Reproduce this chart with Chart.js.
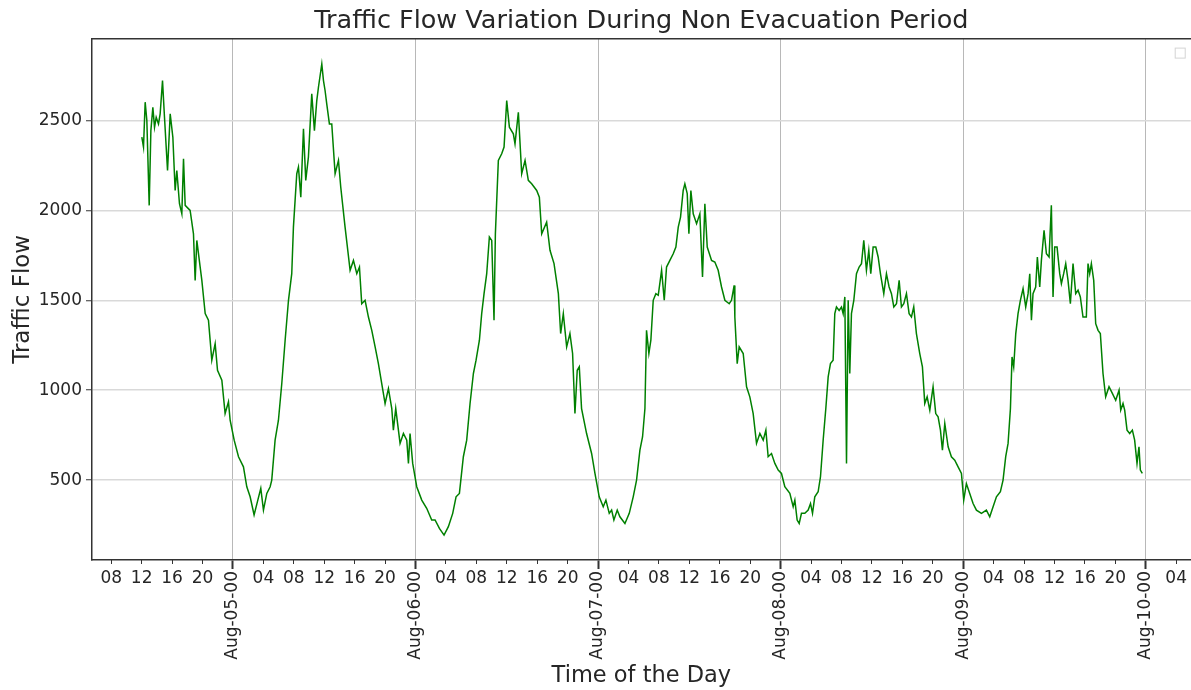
<!DOCTYPE html>
<html>
<head>
<meta charset="utf-8">
<script src="https://cdn.jsdelivr.net/npm/chart.js@4.4.1/dist/chart.umd.min.js"></script>
<style>
  html, body { margin: 0; padding: 0; background: #ffffff; }
  #wrap { width: 1191px; height: 690px; position: relative; }
</style>
</head>
<body>
<div id="wrap"><canvas id="c"></canvas></div>
<script>
// ---- data (hours since Aug-04 00:00, traffic flow) ----
const hours = [
  12.02,12.24,12.46,12.68,12.99,13.21,13.47,13.69,13.91,14.21,14.43,14.74,15.0,15.4,15.75,16.1,16.4,16.62,16.97,17.28,
  17.5,17.72,18.37,18.81,19.03,19.25,19.69,19.91,20.35,20.78,21.22,21.66,21.97,22.54,22.97,23.41,23.63,24.16,24.73,25.38,
  25.82,26.26,26.78,27.22,27.66,28.01,28.45,28.89,29.1,29.54,29.98,30.42,30.86,31.3,31.73,31.95,32.17,32.39,32.61,32.92,
  33.27,33.57,33.92,34.36,34.71,35.02,35.24,35.68,35.9,36.11,36.33,36.68,36.99,37.43,37.87,38.17,38.74,
  39.4,39.84,40.28,40.63,40.93,41.37,41.81,42.25,42.69,43.12,43.56,44.0,44.44,44.88,45.09,45.4,45.97,46.41,46.85,47.07,
  47.28,47.63,48.16,48.82,49.47,50.13,50.57,51.14,51.75,52.32,52.89,53.33,53.77,54.29,54.73,55.17,55.61,55.96,56.4,56.7,
  57.01,57.36,57.71,58.02,58.32,58.5,58.89,59.33,59.64,59.99,60.34,60.86,61.08,61.52,61.96,62.4,62.83,63.27,63.93,64.28,
  64.59,65.24,65.68,66.21,66.78,67.08,67.43,67.87,
  68.3,68.65,68.96,69.26,69.53,69.83,70.49,71.15,71.59,72.15,72.68,73.03,73.47,73.78,74.08,74.52,74.87,75.53,76.1,76.62,
  77.06,77.5,77.85,78.16,78.37,78.68,78.94,79.25,79.6,79.91,80.35,80.7,81.0,81.44,81.88,82.23,82.54,82.84,83.19,83.41,
  83.72,83.94,84.2,84.51,84.95,85.38,85.73,86.04,86.35,86.92,87.35,87.79,88.23,88.67,89.24,89.54,89.89,89.98,90.29,90.55,
  91.08,91.52,91.95,92.39,92.83,93.27,93.71,94.06,94.36,94.8,95.24,95.68,96.11,96.55,
  97.21,97.65,97.87,98.17,98.44,98.74,99.18,99.62,99.93,100.19,100.49,100.93,101.24,101.59,101.94,102.25,102.55,102.9,103.12,103.34,
  103.69,104.0,104.22,104.44,104.66,104.88,105.09,105.31,105.62,105.97,106.32,106.63,106.93,107.28,107.59,107.85,108.16,108.51,108.82,109.12,
  109.56,109.91,110.26,110.57,110.88,111.23,111.58,111.88,112.19,112.54,112.89,113.2,113.5,113.85,114.29,114.64,114.95,115.26,115.61,116.04,
  116.39,116.7,117.01,117.27,117.58,118.02,118.45,118.89,119.33,119.77,120.07,120.42,120.86,121.3,121.74,122.4,123.05,
  123.49,123.93,124.37,124.89,125.24,125.59,125.9,126.21,126.42,126.64,126.91,127.21,127.52,127.87,128.22,128.53,128.75,128.97,129.18,129.53,
  129.75,130.06,130.28,130.63,130.94,131.29,131.59,131.81,132.03,132.34,132.69,132.91,133.21,133.48,133.78,134.09,134.44,134.79,135.1,135.4,
  135.75,136.19,136.41,136.63,136.85,137.16,137.42,137.73,138.03,138.38,138.73,139.17,139.61,140.05,140.49,140.71,141.01,141.23,141.54,141.89,
  142.24,142.54,142.85,143.11,143.29,143.55
];
const flow = [
  2407,2352,2602,2500,2028,2444,2574,2463,2518,2481,2537,2722,2518,2222,2537,2407,2111,2222,2037,1981,
  2287,2028,2000,1870,1611,1833,1685,1611,1426,1389,1167,1259,1111,1056,870,935,833,722,630,574,
  463,407,306,380,454,333,426,463,500,722,833,1037,1278,1500,1648,1907,2056,2204,2241,2074,
  2454,2167,2296,2648,2444,2611,2685,2815,2722,2667,2593,2481,2481,2204,2278,2130,1907,
  1667,1722,1648,1685,1481,1500,1407,1333,1241,1148,1037,926,1009,898,778,898,704,759,722,593,
  759,593,463,389,343,278,278,231,194,241,315,407,426,630,722,926,1093,1167,1278,1426,
  1537,1648,1852,1833,1389,1870,2278,2315,2352,2611,2463,2426,2370,2546,2204,2278,2167,2148,2111,2074,
  1870,1935,1778,1704,1537,1315,1426,1241,
  1315,1204,870,1111,1130,898,759,648,537,407,352,389,315,333,278,333,296,259,315,407,
  500,667,741,898,1333,1204,1278,1500,1537,1528,1667,1500,1685,1722,1759,1796,1907,1963,2111,2148,
  2093,1870,2111,1981,1926,1981,1630,2037,1796,1722,1713,1667,1574,1500,1481,1500,1583,1407,1148,1241,
  1204,1019,963,870,704,759,722,778,630,648,593,556,537,463,
  426,352,389,278,259,315,315,333,370,315,407,435,519,722,898,1074,1148,1167,1426,1463,
  1444,1463,1426,1519,593,1500,1093,1426,1500,1648,1685,1704,1833,1667,1778,1648,1796,1796,1741,1648,
  1537,1648,1574,1537,1463,1481,1611,1463,1481,1537,1426,1407,1463,1315,1204,1130,926,963,889,1019,
  870,852,778,667,815,685,630,611,574,537,389,481,426,370,333,315,333,
  296,352,407,435,500,630,704,898,1185,1130,1315,1426,1500,1565,1463,1537,1648,1389,1537,1574,
  1741,1574,1722,1889,1759,1741,2028,1519,1796,1796,1648,1593,1648,1704,1611,1481,1704,1537,1556,1519,
  1407,1407,1704,1648,1704,1611,1370,1333,1315,1093,963,1019,982,944,1000,889,926,889,778,759,
  778,722,593,685,556,537
];

// ---- tick positions / labels ----
const hourTicks = [8,12,16,20, 28,32,36,40,44, 52,56,60,64,68, 76,80,84,88,92, 100,104,108,112,116, 124,128,132,136,140, 148];
const hourLabels = ['08','12','16','20', '04','08','12','16','20', '04','08','12','16','20', '04','08','12','16','20', '04','08','12','16','20', '04','08','12','16','20', '04'];
const dayTicks = [24,48,72,96,120,144];
const dayLabels = ['Aug-05-00','Aug-06-00','Aug-07-00','Aug-08-00','Aug-09-00','Aug-10-00'];
const yTicks = [500,1000,1500,2000,2500];

const X_MIN = 5.47, X_MAX = 149.91;
const Y_MIN = 55.6, Y_MAX = 2955.6;

const points = hours.map((h, i) => ({ x: h, y: flow[i] }));

Chart.defaults.font.family = "'DejaVu Sans', sans-serif";
Chart.defaults.color = '#262626';

const legendBox = {
  id: 'legendBox',
  afterDraw(chart) {
    const { ctx, chartArea } = chart;
    ctx.save();
    ctx.strokeStyle = '#d4d4d4';
    ctx.lineWidth = 1;
    ctx.strokeRect(chartArea.right - 15.5, chartArea.top + 9.5, 10, 10);
    ctx.restore();
  }
};

new Chart(document.getElementById('c'), {
  type: 'line',
  data: {
    datasets: [{
      data: points,
      borderColor: '#008000',
      borderWidth: 1.5,
      pointRadius: 0,
      tension: 0,
      fill: false,
      xAxisID: 'x',
      yAxisID: 'y'
    }]
  },
  options: {
    responsive: true,
    maintainAspectRatio: false,
    animation: false,
    layout: { padding: 0 },
    plugins: {
      legend: { display: false },
      tooltip: { enabled: false },
      title: {
        display: true,
        fullSize: false,
        text: 'Traffic Flow Variation During Non Evacuation Period',
        font: { size: 25.5, weight: 'normal' },
        color: '#262626',
        padding: { top: 6, bottom: 2 }
      }
    },
    scales: {
      x: {
        type: 'linear', axis: 'x', position: 'bottom',
        min: X_MIN, max: X_MAX,
        afterBuildTicks: s => { s.ticks = hourTicks.map(v => ({ value: v })); },
        afterFit: s => { s.height = 0; s._computeLabelArea = () => null; },
        ticks: {
          autoSkip: false, maxRotation: 0, minRotation: 0, padding: 4,
          font: { size: 17 }, color: '#262626',
          callback: (v, i) => hourLabels[i]
        },
        grid: { drawOnChartArea: false, tickLength: 4, tickColor: '#333', tickWidth: 1 },
        border: { display: false }
      },
      xDay: {
        type: 'linear', axis: 'x', position: 'bottom',
        min: X_MIN, max: X_MAX,
        afterBuildTicks: s => { s.ticks = dayTicks.map(v => ({ value: v })); },
        afterFit: s => { s.height = 130; },
        ticks: {
          autoSkip: false, maxRotation: 90, minRotation: 90, padding: 2,
          font: { size: 17 }, color: '#262626',
          callback: (v, i) => dayLabels[i]
        },
        grid: { drawOnChartArea: true, color: '#b8b8b8', lineWidth: 1, tickLength: 9, tickColor: '#333', tickWidth: 2 },
        border: { display: true, color: '#333', width: 1.5 },
        title: {
          display: true, text: 'Time of the Day',
          font: { size: 22.5 }, color: '#262626',
          padding: { top: 0, bottom: 0 }
        }
      },
      xTop: {
        type: 'linear', axis: 'x', position: 'top',
        min: X_MIN, max: X_MAX,
        afterFit: s => { s.height = 0; },
        ticks: { display: false },
        grid: { drawOnChartArea: false, drawTicks: false },
        border: { display: true, color: '#333', width: 1.5 }
      },
      y: {
        type: 'linear', position: 'left',
        min: Y_MIN, max: Y_MAX,
        afterBuildTicks: s => { s.ticks = yTicks.map(v => ({ value: v })); },
        afterFit: s => { s.width = 92; },
        ticks: { font: { size: 17 }, color: '#262626', padding: 4, callback: v => String(v) },
        grid: { color: '#d9d9d9', lineWidth: 1.5, tickLength: 6, tickColor: '#333', tickWidth: 1 },
        border: { display: true, color: '#333', width: 1.5 },
        title: {
          display: true, text: 'Traffic Flow',
          font: { size: 23 }, color: '#262626',
          padding: { top: 9, bottom: 0 }
        }
      }
    }
  },
  plugins: [legendBox]
});
</script>
</body>
</html>
